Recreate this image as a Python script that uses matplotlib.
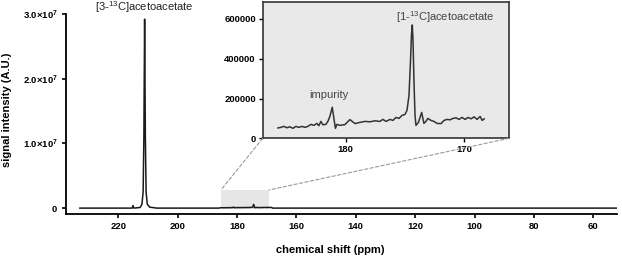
import matplotlib
matplotlib.use("Agg")
import matplotlib.pyplot as plt
from matplotlib.patches import Rectangle, ConnectionPatch

plt.rcParams['font.family'] = ['Liberation Sans', 'DejaVu Sans']
plt.rcParams['mathtext.fontset'] = 'custom'
plt.rcParams['mathtext.rm'] = 'Liberation Sans'
plt.rcParams['mathtext.bf'] = 'Liberation Sans:bold'
plt.rcParams['mathtext.default'] = 'rm'

# full spectrum (ppm, signal) - baseline and the big C3 peak
main_ppm = [232.9, 225.0, 215.3, 215.0, 214.7, 212.6, 212.0, 211.6, 211.35, 211.1,
            210.85, 210.6, 210.2, 209.4, 207.0, 186.0]
main_sig = [0, 0, 0, 4.0e5, 0, 1.0e5, 6.0e5, 2.5e6, 1.1e7, 2.92e7,
            1.1e7, 2.5e6, 6.0e5, 1.5e5, 0, 0]
tail_ppm = [168.0, 140.0, 100.0, 52.0]
tail_sig = [0, 0, 0, 0]

# zoomed region 185.7 - 168.3 ppm
zoom_ppm = [185.72, 185.47, 185.22, 184.96, 184.71, 184.45, 184.20, 183.95, 183.69, 183.44,
            183.19, 182.93, 182.68, 182.43, 182.26, 182.09, 181.92, 181.67, 181.50, 181.33,
            181.13, 180.99, 180.86, 180.74, 180.48, 180.06, 179.64, 179.21, 178.79, 178.37,
            177.95, 177.52, 177.10, 176.85, 176.59, 176.25, 176.00, 175.75, 175.49, 175.24,
            174.99, 174.82, 174.65, 174.52, 174.44, 174.37, 174.31, 174.23, 174.14, 174.06,
            173.85, 173.58, 173.39, 173.22, 173.05, 172.80, 172.54, 172.29, 171.94, 171.69,
            171.44, 171.18, 170.93, 170.68, 170.42, 170.17, 169.91, 169.66, 169.40, 169.15,
            168.90, 168.64, 168.47, 168.30]
zoom_sig = [52000, 55000, 60000, 53000, 58000, 50000, 60000, 55000, 60000, 55000,
            60000, 70000, 65000, 75000, 63000, 85000, 68000, 70000, 85000, 110000,
            156000, 100000, 50000, 70000, 65000, 69000, 94000, 74000, 80000, 85000,
            83000, 88000, 85000, 95000, 85000, 95000, 90000, 105000, 100000, 115000,
            120000, 140000, 215000, 390000, 520000, 570000, 495000, 290000, 115000, 65000,
            80000, 130000, 75000, 85000, 100000, 90000, 85000, 75000, 74000, 90000,
            95000, 93000, 100000, 103000, 95000, 105000, 95000, 105000, 98000, 108000,
            95000, 110000, 90000, 98000]

main_yticks = [0, 1e7, 2e7, 3e7]
main_yticklabels = [r'$\mathbf{0}$', r'$\mathbf{1.0{\times}10^{7}}$',
                    r'$\mathbf{2.0{\times}10^{7}}$', r'$\mathbf{3.0{\times}10^{7}}$']
main_xticks = [220, 200, 180, 160, 140, 120, 100, 80, 60]
zoom_yticks = [0, 200000, 400000, 600000]
zoom_xticks = [180, 170]

fig = plt.figure(figsize=(6.22, 2.59), dpi=100)
ax = fig.add_axes([0.106, 0.174, 0.886, 0.772])

ppm = main_ppm + zoom_ppm + tail_ppm
sig = main_sig + zoom_sig + tail_sig
ax.plot(ppm, sig, color='#1a1a1a', lw=1.1, zorder=3)

# shaded zoom window
ax.add_patch(Rectangle((169.2, -1.0e5), 16.2, 2.9e6, facecolor='#e6e6e6',
                       edgecolor='none', zorder=1))

ax.set_xlim(237.6, 52.0)
ax.set_ylim(-0.09e7, 3.0e7)
ax.set_xticks(main_xticks)
ax.set_yticks(main_yticks)
ax.set_yticklabels(main_yticklabels)
for s in ['top', 'right']:
    ax.spines[s].set_visible(False)
for s in ['left', 'bottom']:
    ax.spines[s].set_linewidth(1.3)
ax.tick_params(direction='out', length=3, width=1.2, labelsize=6.8, pad=3)
for lab in ax.get_xticklabels() + ax.get_yticklabels():
    lab.set_fontweight('bold')
ax.set_xlabel('chemical shift (ppm)', fontsize=8, fontweight='bold')
ax.xaxis.set_label_coords(0.479, -0.155)
ax.set_ylabel('signal intensity (A.U.)', fontsize=8, fontweight='bold')
ax.yaxis.set_label_coords(-0.097, 0.52)
ax.text(211.1, 3.1e7, '[3-$^{13}$C]acetoacetate', fontsize=8, ha='center',
        va='center', color='#222222', clip_on=False)

# inset
axi = fig.add_axes([0.4224, 0.466, 0.396, 0.526])
axi.set_facecolor('#e9e9e9')
axi.plot(zoom_ppm, zoom_sig, color='#333333', lw=1.1)
axi.set_xlim(187.0, 166.2)
axi.set_ylim(0, 685000)
axi.set_xticks(zoom_xticks)
axi.set_yticks(zoom_yticks)
for s in axi.spines.values():
    s.set_linewidth(1.2)
    s.set_color('#333333')
axi.tick_params(direction='out', length=3, width=1.0, labelsize=6.8, pad=2)
for lab in axi.get_xticklabels() + axi.get_yticklabels():
    lab.set_fontweight('bold')
axi.text(181.4, 217000, 'impurity', fontsize=8, ha='center', va='center', color='#444444')
axi.text(171.6, 610000, '[1-$^{13}$C]acetoacetate', fontsize=8, ha='center',
         va='center', color='#444444')

# dashed lines from window to inset
for xa, xb in [(0, 185.4), (1, 169.2)]:
    con = ConnectionPatch(xyA=(xa, 0), coordsA=axi.transAxes,
                          xyB=(xb, 2.8e6), coordsB=ax.transData,
                          linestyle=(0, (3, 2)), color='#999999', lw=0.8)
    fig.add_artist(con)

fig.savefig('out.png', dpi=100)
